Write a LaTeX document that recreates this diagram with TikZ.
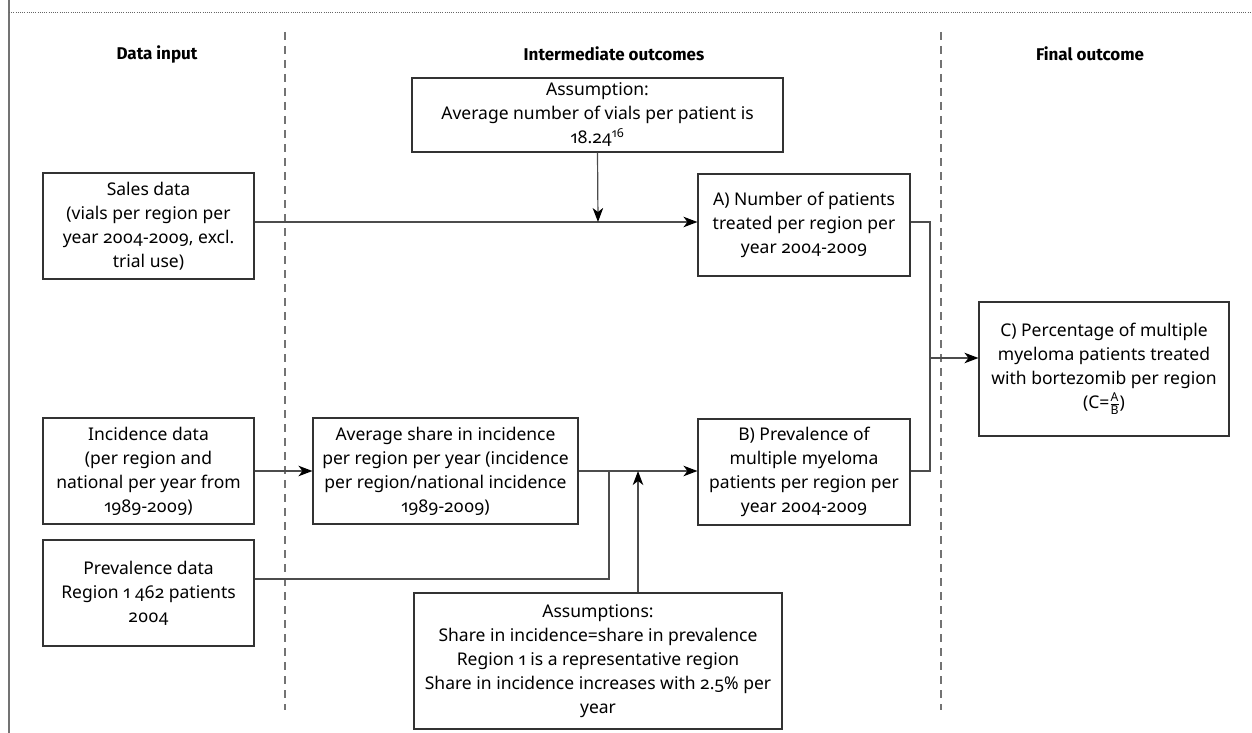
\documentclass[tikz,border=0pt]{standalone}
\usepackage{amsmath}
\usepackage{fontspec}
\setmainfont{Noto Sans}[Numbers={OldStyle,Proportional}]
\newfontfamily\hdrfont{Fira Sans}
\usetikzlibrary{arrows.meta}
\begin{document}
\begin{tikzpicture}[x=1pt,y=-1pt,
  box/.style={draw=black!80,line width=1.1pt,align=center,inner sep=0pt,
    font=\fontsize{17.5}{24}\selectfont},
  hdr/.style={font=\hdrfont\bfseries\fontsize{17}{24}\selectfont},
  conn/.style={draw=black!70,line width=1.2pt},
  arr/.style={conn,-{Stealth[length=14pt,width=10.5pt,inset=4pt,black]}},
  sep/.style={draw=black!55,line width=1.2pt,dash pattern=on 8pt off 6pt}]
\useasboundingbox (0,0) rectangle (1252,733);
% frame lines
\draw[black!55,line width=2pt] (9,0) -- (9,733);
\draw[black!60,line width=0.8pt,dash pattern=on 1pt off 1.2pt] (9,12) -- (1252,12);
\draw[sep] (285,32) -- (285,710);
\draw[sep] (941,32) -- (941,710);
% headers
\node[hdr] (h1) at (157,54) {Data input};
\node[hdr] (h2) at (614,54) {Intermediate outcomes};
\node[hdr] (h3) at (1090,54) {Final outcome};
% boxes
\node[box,minimum width=371pt,minimum height=74pt] (assum) at (597.5,115)
  {Assumption:\\Average number of vials per patient is\\18.24\textsuperscript{16}};
\node[box,minimum width=211pt,minimum height=106pt] (sales) at (148.5,226)
  {Sales data\\(vials per region per\\year 2004-2009, excl.\\trial use)};
\node[box,minimum width=212pt,minimum height=102pt] (A) at (804,225)
  {A) Number of patients\\treated per region per\\year 2004-2009};
\node[box,minimum width=250pt,minimum height=134pt] (C) at (1104,369)
  {C) Percentage of multiple\\myeloma patients treated\\with bortezomib per region\\(C=$\frac{\text{A}}{\text{B}}$)};
\node[box,minimum width=211pt,minimum height=106pt] (inc) at (148.5,471)
  {Incidence data\\(per region and\\national per year from\\1989-2009)};
\node[box,minimum width=265pt,minimum height=106pt] (avg) at (445.5,471)
  {Average share in incidence\\per region per year (incidence\\per region/national incidence\\1989-2009)};
\node[box,minimum width=212pt,minimum height=106pt] (B) at (804,472)
  {B) Prevalence of\\multiple myeloma\\patients per region per\\year 2004-2009};
\node[box,minimum width=211pt,minimum height=106pt] (prev) at (148.5,593)
  {Prevalence data\\Region 1 462 patients\\2004};
\node[box,minimum width=368pt,minimum height=136pt] (assums) at (598,661)
  {Assumptions:\\Share in incidence=share in prevalence\\Region 1 is a representative region\\Share in incidence increases with 2.5\% per\\year};
% junction coordinates
\coordinate (j1) at (598,222);
\coordinate (j2) at (930,471);
\coordinate (jc) at (930,358);
\coordinate (jp) at (609,471);
\coordinate (pl) at (609,579);
\coordinate (ju) at (638,471);
% connectors
\draw[arr] (sales.east |- j1) -- (A.west |- j1);
\draw[arr] (assum.south) -- (j1);
\draw[conn] (A.east |- j1) -| (j2) -- (B.east |- j2);
\draw[arr] (jc) -- (C.west |- jc);
\draw[arr] (inc.east |- j2) -- (avg.west |- j2);
\draw[arr] (avg.east |- j2) -- (B.west |- j2);
\draw[conn] (prev.east |- pl) -- (pl) -- (jp);
\draw[arr] (assums.north -| ju) -- (ju);
\end{tikzpicture}
\end{document}
